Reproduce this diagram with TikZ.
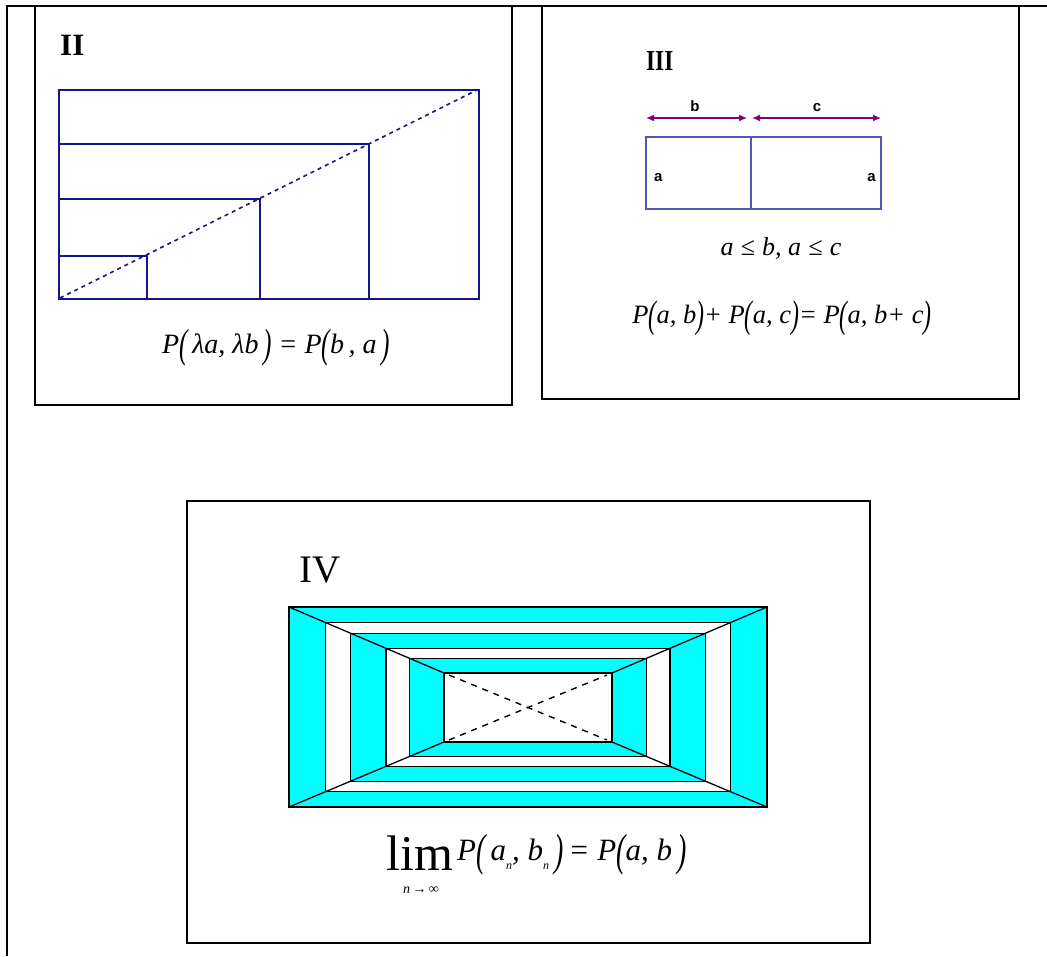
\documentclass[tikz,border=0pt]{standalone}
\usepackage{fontspec}
\setmainfont{Liberation Serif}
\newfontfamily\lsans{Liberation Sans}
\usepackage{graphicx}
\usetikzlibrary{calc,arrows.meta}
\definecolor{navyline}{RGB}{20,20,140}
\definecolor{slateline}{RGB}{85,85,185}
\definecolor{arrowpurple}{RGB}{128,0,128}
\definecolor{aquafill}{RGB}{0,255,255}
\newcommand{\fsz}[1]{\fontsize{#1}{#1}\selectfont}
\newcommand{\tallL}{\raisebox{-0.17em}{\scalebox{0.9}[1.45]{(}}}
\newcommand{\tallR}{\raisebox{-0.17em}{\scalebox{0.9}[1.45]{)}}}
\begin{document}
\begin{tikzpicture}[x=1pt,y=-1pt,
  boxline/.style={line width=2pt,black},
  frameline/.style={line width=1.5pt,black},
  navyl/.style={line width=1.4pt,navyline},
  slatel/.style={line width=1.5pt,slateline},
  dimarrow/.style={line width=1.4pt,arrowpurple,{Latex[length=8pt,width=7pt]}-{Latex[length=8pt,width=7pt]}},
  tunnel/.style={line width=1.3pt,black},
  sanslbl/.style={inner sep=0pt,font=\lsans\bfseries\fsz{15}},
  txt/.style={inner sep=0pt}]
\useasboundingbox (0,0) rectangle (1047,956);
\fill[white] (0,0) rectangle (1047,956);
% outer frame
\draw[frameline] (1047,6) -- (7,6) -- (7,956);
% boxes
\draw[boxline] (35,6) rectangle (512,405);
\draw[boxline] (542,6) rectangle (1019,399);
\draw[boxline] (187,501) rectangle (870,943);

% ---------- II ----------
\node[txt,anchor=base west] (lblII) at (60,55) {\fsz{31}\bfseries II};
\draw[navyl] (59,90) rectangle (479,299);
\draw[navyl] (59,144) -- (369,144) -- (369,299);
\draw[navyl] (59,199) -- (260,199) -- (260,299);
\draw[navyl] (59,256) -- (147,256) -- (147,299);
\draw[navyl,line width=1.6pt,dash pattern=on 4pt off 4pt] (60,298) -- (477,90);
\node[txt,anchor=base] (eqII) at (276,353) {\fsz{28}\itshape P\tallL\,λa, λb\,\tallR\ = P\tallL b\,, a\,\tallR};

% ---------- III ----------
\node[txt,anchor=base west] (lblIII) at (646,70) {\scalebox{0.8}[1]{\fsz{29}\bfseries III}};
\coordinate (bL) at (646,118);
\coordinate (bR) at (747,118);
\coordinate (cL) at (752,118);
\coordinate (cR) at (881,118);
\draw[dimarrow] (bL) -- (bR);
\draw[dimarrow] (cL) -- (cR);
\node[sanslbl,anchor=base] (lblb) at (695,111) {b};
\node[sanslbl,anchor=base] (lblc) at (817,111) {c};
\draw[slatel] (646,137) rectangle (881,209);
\draw[slatel] (751,137) -- (751,209);
\node[sanslbl,anchor=base west] (lblaL) at (654,181) {a};
\node[sanslbl,anchor=base east] (lblaR) at (876,181) {a};
\node[txt,anchor=base] (ineq) at (781,255) {\fsz{26}\itshape a\;≤\;b, a\;≤\;c};
\node[txt,anchor=base] (eqIII) at (782,323) {\fsz{26.5}\itshape P\tallL a, b\tallR+ P\tallL a, c\tallR= P\tallL a, b+ c\tallR};

% ---------- IV ----------
\node[txt,anchor=base west] (lblIV) at (290,582) {\fsz{39} IV};
\coordinate (oTL) at (289,607);
\coordinate (oBR) at (767,807);
\coordinate (oTR) at (767,607);
\coordinate (oBL) at (289,807);
\coordinate (iTL) at (444,673);
\coordinate (iBR) at (612,742);
\coordinate (iTR) at (612,673);
\coordinate (iBL) at (444,742);
\foreach \t/\c in {0/aquafill,0.235/white,0.397/aquafill,0.626/white,0.778/aquafill,1/white}{
  \fill[\c] ($(oTL)!\t!(iTL)$) rectangle ($(oBR)!\t!(iBR)$);
}
\foreach \t in {0,0.235,0.397,0.626,0.778,1}{
  \draw[tunnel] ($(oTL)!\t!(iTL)$) rectangle ($(oBR)!\t!(iBR)$);
}
\draw[tunnel] (oTL) -- (iTL);
\draw[tunnel] (oTR) -- (iTR);
\draw[tunnel] (oBL) -- (iBL);
\draw[tunnel] (oBR) -- (iBR);
\draw[line width=1.4pt,dash pattern=on 6pt off 6pt] ($(iTL)!0.03!(iBR)$) -- ($(iTL)!0.97!(iBR)$);
\draw[line width=1.4pt,dash pattern=on 6pt off 6pt] ($(iBL)!0.03!(iTR)$) -- ($(iBL)!0.97!(iTR)$);
\node[txt,anchor=base west] (lim) at (386,870) {\fsz{50}lim};
\node[txt,anchor=base] (limsub) at (421,893) {\fsz{14}\itshape n\,→\,∞};
\node[txt,anchor=base west] (eqIV) at (457,860) {\fsz{31}\itshape P\tallL\,a\raisebox{-0.3em}{\fsz{12}n}, b\raisebox{-0.3em}{\fsz{12}n}\,\tallR\,= P\tallL a, b\,\tallR};
\end{tikzpicture}
\end{document}
